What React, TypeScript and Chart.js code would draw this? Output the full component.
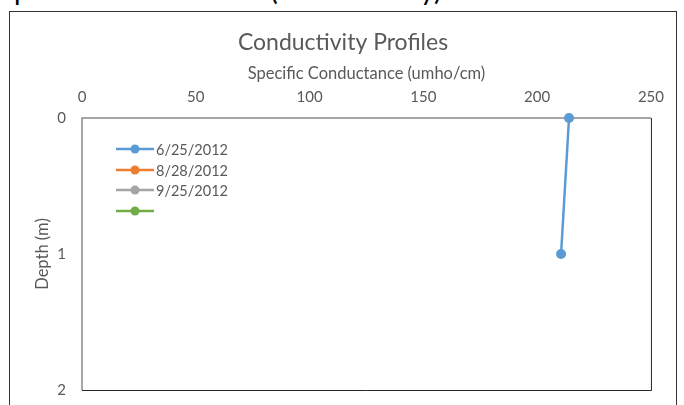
import React, { useEffect, useRef } from "react";
import { Chart, registerables } from "chart.js";

Chart.register(...registerables);

const pageHeading = "Specific Conductance (Conductivity)";
const chartTitle = "Conductivity Profiles";
const xAxisTitle = "Specific Conductance (umho/cm)";
const yAxisTitle = "Depth (m)";

const seriesLabels = ["6/25/2012", "8/28/2012", "9/25/2012", ""];
const seriesColors = ["#5B9BD5", "#ED7D31", "#A5A5A5", "#70AD47"];

// conductance values (x) and depths (y)
const cond0625 = [214, 210.5];
const depth0625 = [0, 1];
const cond0828: number[] = [];
const depth0828: number[] = [];
const cond0925: number[] = [];
const depth0925: number[] = [];
const condExtra: number[] = [];
const depthExtra: number[] = [];

const xMin = 0;
const xMax = 250;
const xStep = 50;
const yMin = 0;
const yMax = 2;
const yStep = 1;

const FONT = "Lato, 'Open Sans', sans-serif";
const TEXT = "#595959";

function pts(xs: number[], ys: number[]) {
  return xs.map((x, i) => ({ x, y: ys[i] }));
}

const overlay = {
  id: "overlay",
  afterDraw(chart: any) {
    const { ctx, chartArea: a, width } = chart;
    ctx.save();
    ctx.fillStyle = TEXT;
    ctx.textAlign = "center";
    ctx.textBaseline = "middle";
    ctx.font = `23px ${FONT}`;
    ctx.fillText(chartTitle, width / 2, 31);
    ctx.font = `16.5px ${FONT}`;
    ctx.fillText(xAxisTitle, (a.left + a.right) / 2, 61.5);
    ctx.save();
    ctx.translate(33, (a.top + a.bottom) / 2);
    ctx.rotate(-Math.PI / 2);
    ctx.fillText(yAxisTitle, 0, 0);
    ctx.restore();

    // legend
    const rows = [31, 52, 72, 93];
    seriesLabels.forEach((lab, i) => {
      const y = a.top + rows[i];
      const c = seriesColors[i];
      ctx.strokeStyle = c;
      ctx.lineWidth = 2.5;
      ctx.beginPath();
      ctx.moveTo(a.left + 34, y);
      ctx.lineTo(a.left + 72, y);
      ctx.stroke();
      ctx.fillStyle = c;
      ctx.beginPath();
      ctx.arc(a.left + 53, y, 4.5, 0, Math.PI * 2);
      ctx.fill();
      if (lab) {
        ctx.fillStyle = TEXT;
        ctx.textAlign = "left";
        ctx.font = `14.5px ${FONT}`;
        ctx.fillText(lab, a.left + 74, y + 1);
      }
    });
    ctx.restore();
  },
};

const frame = {
  id: "frame",
  beforeDatasetsDraw(chart: any) {
    const { ctx, chartArea: a } = chart;
    ctx.save();
    ctx.strokeStyle = "#262626";
    ctx.lineWidth = 1;
    ctx.beginPath();
    ctx.moveTo(a.right + 0.5, a.top);
    ctx.lineTo(a.right + 0.5, a.bottom + 0.5);
    ctx.lineTo(a.left, a.bottom + 0.5);
    ctx.stroke();
    ctx.strokeStyle = "#898989";
    ctx.lineWidth = 1.5;
    ctx.beginPath();
    ctx.moveTo(a.left, a.bottom);
    ctx.lineTo(a.left, a.top);
    ctx.lineTo(a.right, a.top);
    ctx.stroke();
    ctx.restore();
  },
};

function ChartView() {
  const ref = useRef<HTMLCanvasElement | null>(null);
  useEffect(() => {
    if (!ref.current) return;
    const datasets = [
      [cond0625, depth0625],
      [cond0828, depth0828],
      [cond0925, depth0925],
      [condExtra, depthExtra],
    ].map(([xs, ys], i) => ({
      label: seriesLabels[i],
      data: pts(xs, ys),
      borderColor: seriesColors[i],
      backgroundColor: seriesColors[i],
      borderWidth: 2.5,
      pointRadius: 5,
      pointBorderWidth: 0,
      showLine: true,
      tension: 0,
      clip: false as any,
    }));
    const chart = new Chart(ref.current, {
      type: "scatter",
      data: { datasets },
      options: {
        animation: false,
        responsive: false,
        maintainAspectRatio: false,
        layout: { padding: { top: 0, left: 0, right: 25, bottom: 40 } },
        plugins: {
          legend: { display: false },
          title: { display: false },
          tooltip: { enabled: false },
        },
        scales: {
          x: {
            type: "linear",
            position: "top",
            min: xMin,
            max: xMax,
            ticks: {
              stepSize: xStep,
              color: TEXT,
              font: { family: FONT, size: 15 },
              padding: 12,
              maxRotation: 0,
            },
            grid: { display: false, drawTicks: false },
            border: { display: false },
            afterFit: (s: any) => {
              s.height = 106;
            },
          },
          y: {
            type: "linear",
            reverse: true,
            min: yMin,
            max: yMax,
            ticks: {
              stepSize: yStep,
              color: TEXT,
              font: { family: FONT, size: 15 },
              padding: 16,
            },
            grid: { display: false, drawTicks: false },
            border: { display: false },
            afterFit: (s: any) => {
              s.width = 72;
            },
          },
        },
      },
      plugins: [frame, overlay],
    });
    return () => chart.destroy();
  }, []);
  return <canvas ref={ref} width={666} height={418} style={{ display: "block" }} />;
}

export default function App() {
  return (
    <div
      style={{
        position: "fixed",
        left: 0,
        top: 0,
        width: 684,
        height: 405,
        overflow: "hidden",
        background: "#fff",
      }}
    >
      <div
        style={{
          position: "absolute",
          left: -1,
          top: -28,
          fontFamily: FONT,
          fontSize: 28,
          color: "#000",
          whiteSpace: "nowrap",
        }}
      >
        {pageHeading}
      </div>
      <div
        style={{
          position: "absolute",
          left: 9,
          top: 11,
          width: 666,
          height: 418,
          border: "1px solid #333",
          background: "#fff",
        }}
      >
        <ChartView />
      </div>
    </div>
  );
}
